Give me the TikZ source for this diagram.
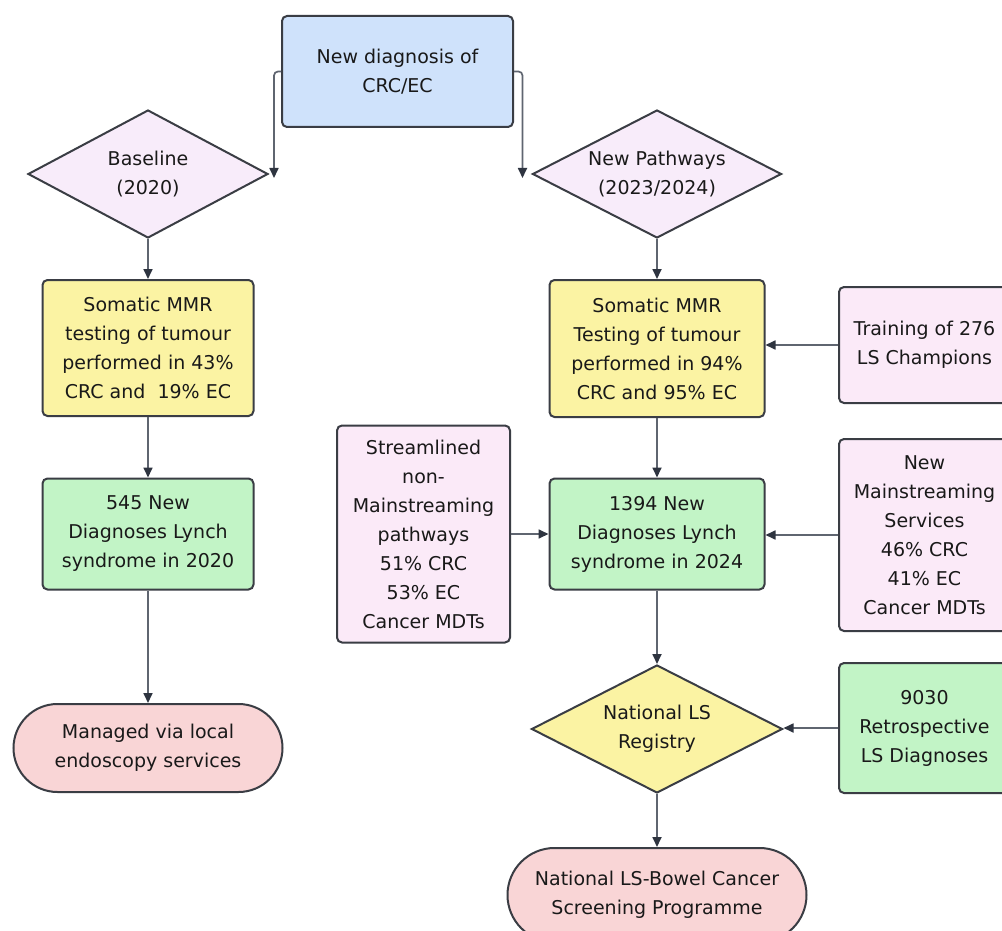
\documentclass[tikz,border=0pt]{standalone}
\usepackage{fontspec}
\setmainfont{DejaVu Sans}
\usetikzlibrary{arrows.meta,shapes.geometric,shapes.misc}

\definecolor{boxline}{HTML}{3A3D44}
\definecolor{linkgray}{HTML}{5F6570}
\definecolor{tipdark}{HTML}{2E3440}
\definecolor{startblue}{HTML}{CFE2FB}
\definecolor{choicelilac}{HTML}{F8ECFA}
\definecolor{testyellow}{HTML}{FBF3A3}
\definecolor{diaggreen}{HTML}{C2F4C6}
\definecolor{inputpink}{HTML}{FBEAF8}
\definecolor{endred}{HTML}{F9D5D6}

\tikzset{
	base/.style={draw=boxline, line width=2pt, align=center, inner sep=0pt,
		font=\fontsize{19}{29}\selectfont, text=black!90},
	stepbox/.style={base, rectangle, rounded corners=5pt},
	choice/.style={base, diamond, aspect=2, fill=choicelilac},
	endcap/.style={base, rounded rectangle, fill=endred},
	link/.style={draw=linkgray, line width=1.7pt, rounded corners=4pt,
		-{Triangle[length=10pt,width=9pt,color=tipdark]}}
}

\begin{document}
\begin{tikzpicture}[x=1pt, y=-1pt]
		
		\clip (0,0) rectangle (1002,931);
		\fill[white] (0,0) rectangle (1002,931);
		
		% start and the two branches
		\node[stepbox, fill=startblue, minimum width=231, minimum height=111] (start) at (397.5,71.5) {New diagnosis of\\CRC/EC};
		\node[choice, minimum width=240, minimum height=128] (baseline) at (148,174) {Baseline\\(2020)};
		\node[choice, minimum width=249, minimum height=128] (pathways) at (657,174) {New Pathways\\(2023/2024)};
		
		% baseline column
		\node[stepbox, fill=testyellow, minimum width=211, minimum height=136] (oldtest) at (148,348) {Somatic MMR\\testing of tumour\\performed in 43\%\\CRC and \ 19\% EC};
		\node[stepbox, fill=diaggreen, minimum width=211, minimum height=111] (olddiag) at (148,534) {545 New\\Diagnoses Lynch\\syndrome in 2020};
		\node[endcap, minimum width=269, minimum height=88] (endoscopy) at (148,748) {Managed via local\\endoscopy services};
		
		% new pathways column
		\node[stepbox, fill=testyellow, minimum width=215, minimum height=137] (newtest) at (657,348.5) {Somatic MMR\\Testing of tumour\\performed in 94\%\\CRC and 95\% EC};
		\node[stepbox, fill=diaggreen, minimum width=215, minimum height=111] (newdiag) at (657,534) {1394 New\\Diagnoses Lynch\\syndrome in 2024};
		\node[choice, fill=testyellow, minimum width=251, minimum height=128] (registry) at (657,729) {National LS\\Registry};
		\node[endcap, minimum width=299, minimum height=94] (screening) at (657,895) {National LS-Bowel Cancer\\Screening Programme};
		
		% side inputs
		\node[stepbox, fill=inputpink, minimum width=173, minimum height=217] (streamlined) at (423.5,534) {Streamlined\\non-\\Mainstreaming\\pathways\\51\% CRC\\53\% EC\\Cancer MDTs};
		\node[stepbox, fill=inputpink, minimum width=171, minimum height=116] (champions) at (924.5,345) {Training of 276\\LS Champions};
		\node[stepbox, fill=inputpink, minimum width=171, minimum height=192] (mainstream) at (924.5,535) {New\\Mainstreaming\\Services\\46\% CRC\\41\% EC\\Cancer MDTs};
		\node[stepbox, fill=diaggreen, minimum width=171, minimum height=130] (retro) at (924.5,728) {9030\\Retrospective\\LS Diagnoses};
		
		\coordinate (leftdrop) at ([xshift=5pt, yshift=-4pt]baseline.east);
		\coordinate (rightdrop) at ([xshift=-9pt, yshift=-4pt]pathways.west);
		
		\draw[link] (start.west) -| (leftdrop);
		\draw[link] (start.east) -| (rightdrop);
		
		\draw[link] (baseline.south) -- (oldtest.north);
		\draw[link] (oldtest) -- (olddiag);
		\draw[link] (olddiag) -- (endoscopy);
		
		\draw[link] (pathways.south) -- (newtest.north);
		\draw[link] (newtest) -- (newdiag);
		\draw[link] (newdiag.south) -- (registry.north);
		\draw[link] (registry.south) -- (screening.north);
		
		\draw[link] (champions.west) -- (champions.west -| newtest.east);
		\draw[link] (streamlined.east) -- (streamlined.east -| newdiag.west);
		\draw[link] (mainstream.west) -- (mainstream.west -| newdiag.east);
		\draw[link] (retro.west) -- (retro.west -| registry.east);
		
	\end{tikzpicture}
\end{document}
